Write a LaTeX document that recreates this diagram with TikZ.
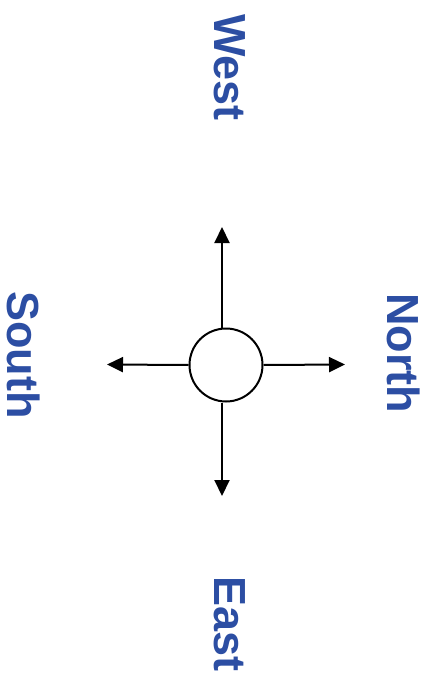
\documentclass[tikz,border=0pt]{standalone}
\usepackage{fontspec}
\setmainfont{Liberation Sans}
\usetikzlibrary{arrows.meta}
\definecolor{cmpBlue}{HTML}{2C4EA3}

\begin{document}
\begin{tikzpicture}[
  x=1pt, y=-1pt,
  dirlabel/.style={font=\fontsize{45}{45}\selectfont\bfseries, text=cmpBlue, rotate=-90, anchor=base, inner sep=0pt},
  hub/.style={circle, draw, line width=2pt, fill=white, minimum size=73pt, inner sep=0pt},
  arrow/.style={-{Triangle[length=16pt, width=15pt]}, line width=2pt}
]
\useasboundingbox (0,0) rectangle (427,676);
% labels
\node[dirlabel] (west) at (214,67.5) {West};
\node[dirlabel] (north) at (387,353) {North};
\node[dirlabel] (south) at (7,355) {South};
\node[dirlabel] (east) at (214,624) {East};
% hub and arrows
\node[hub] (hub) at (226,365) {};
\coordinate (tipUp) at (222,227);
\coordinate (tipDown) at (222,496);
\coordinate (tipLeft) at (107,364.5);
\coordinate (tipRight) at (345,364.5);
\draw[arrow] ([xshift=-4pt]hub.north) -- (tipUp);
\draw[arrow] ([xshift=-4pt]hub.south) -- (tipDown);
\draw[arrow] (hub.west) -- (tipLeft);
\draw[arrow] (hub.east) -- (tipRight);
\end{tikzpicture}
\end{document}
